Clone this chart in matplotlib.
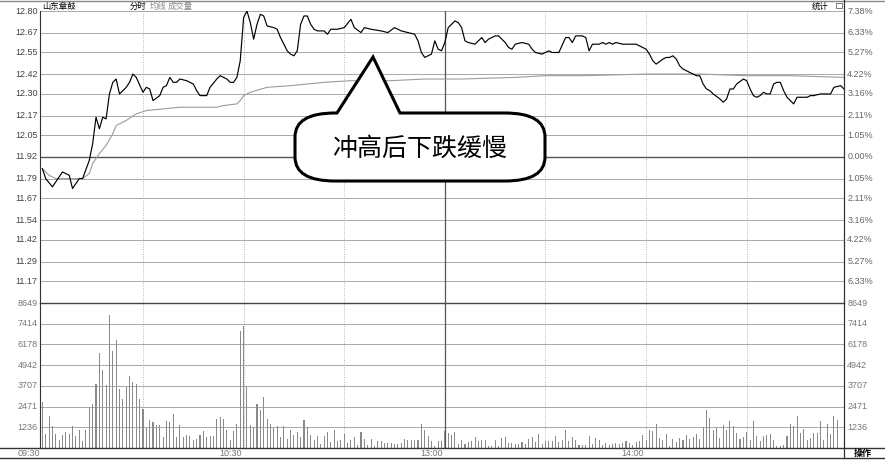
import matplotlib.pyplot as plt
from matplotlib.path import Path
from matplotlib.patches import PathPatch, Rectangle
from matplotlib.lines import Line2D
from matplotlib.transforms import Affine2D, blended_transform_factory

plt.rcParams["font.family"] = ["Liberation Sans", "Noto Sans CJK SC", "DejaVu Sans"]

W, H = 885, 463

# ---- data ----
stock_name = "山东章鼓"
note = "冲高后下跌缓慢"
pre_close = 11.92

price_minutes = [
    0, 1, 3, 4, 6, 8, 9, 11, 12, 14,
    15, 16, 17, 18, 19, 20, 21, 22, 23, 24,
    25, 26, 27, 28, 30, 31, 32, 33, 35, 36,
    37, 38, 39, 40, 41, 43, 45, 46, 47, 49,
    50, 52, 53, 55, 56, 57, 58, 59, 60, 61,
    62, 63, 64, 65, 66, 67, 69, 70, 71, 72,
    73, 74, 75, 76, 77, 78, 79, 80, 81, 82,
    84, 85, 86, 88, 90, 92, 93, 95, 96, 98,
    101, 103, 105, 107, 109, 111, 112, 113, 114, 116,
    117, 118, 119, 120, 121, 122, 123, 124, 125, 126,
    127, 129, 131, 132, 133, 135, 136, 138, 139, 140,
    141, 143, 145, 146, 147, 149, 151, 152, 154, 156,
    157, 158, 159, 161, 162, 163, 164, 166, 167, 168,
    169, 170, 171, 173, 177, 179, 180, 181, 182, 183,
    185, 186, 187, 188, 189, 190, 191, 192, 193, 194,
    195, 196, 197, 198, 199, 200, 202, 203, 204, 205,
    206, 207, 209, 210, 211, 212, 213, 214, 215, 216,
    217, 218, 219, 220, 221, 222, 223, 224, 225, 226,
    228, 229, 230, 232, 235, 236, 238, 239,
]
price_values = [
    11.85, 11.79, 11.74, 11.77, 11.83, 11.81, 11.73, 11.79, 11.79, 11.90,
    12.00, 12.16, 12.09, 12.16, 12.15, 12.30, 12.37, 12.39, 12.30, 12.32,
    12.34, 12.37, 12.42, 12.40, 12.31, 12.34, 12.33, 12.26, 12.29, 12.34,
    12.35, 12.40, 12.37, 12.37, 12.39, 12.38, 12.36, 12.32, 12.29, 12.29,
    12.34, 12.39, 12.41, 12.39, 12.37, 12.37, 12.40, 12.50, 12.76, 12.80,
    12.73, 12.63, 12.72, 12.78, 12.77, 12.71, 12.70, 12.69, 12.64, 12.60,
    12.56, 12.54, 12.53, 12.56, 12.72, 12.77, 12.77, 12.72, 12.69, 12.68,
    12.68, 12.66, 12.69, 12.69, 12.70, 12.75, 12.70, 12.67, 12.70, 12.69,
    12.68, 12.67, 12.70, 12.68, 12.67, 12.66, 12.62, 12.55, 12.52, 12.54,
    12.62, 12.57, 12.56, 12.61, 12.70, 12.72, 12.74, 12.73, 12.70, 12.62,
    12.61, 12.60, 12.64, 12.61, 12.63, 12.65, 12.65, 12.61, 12.58, 12.57,
    12.60, 12.61, 12.60, 12.57, 12.55, 12.54, 12.56, 12.55, 12.55, 12.64,
    12.64, 12.61, 12.65, 12.65, 12.64, 12.56, 12.60, 12.60, 12.61, 12.60,
    12.61, 12.60, 12.61, 12.60, 12.60, 12.58, 12.57, 12.54, 12.50, 12.48,
    12.51, 12.52, 12.52, 12.53, 12.51, 12.47, 12.45, 12.44, 12.43, 12.42,
    12.41, 12.41, 12.36, 12.33, 12.32, 12.30, 12.27, 12.25, 12.27, 12.33,
    12.33, 12.36, 12.39, 12.38, 12.33, 12.29, 12.28, 12.29, 12.31, 12.30,
    12.30, 12.36, 12.37, 12.37, 12.32, 12.28, 12.26, 12.24, 12.28, 12.28,
    12.28, 12.29, 12.29, 12.30, 12.30, 12.34, 12.35, 12.33,
]

avg_minutes = [0, 2, 4, 12, 14, 15, 17, 19, 21, 22,
               25, 28, 31, 36, 41, 46, 52, 54, 58, 59,
               60, 62, 67, 74, 84, 92, 104, 114, 125, 141,
               150, 161, 180, 196, 210, 223, 239]
avg_values = [11.85, 11.81, 11.79, 11.79, 11.82, 11.88, 11.94, 11.99, 12.06, 12.11,
              12.14, 12.18, 12.20, 12.21, 12.22, 12.22, 12.22, 12.23, 12.24, 12.26,
              12.29, 12.31, 12.34, 12.35, 12.37, 12.38, 12.38, 12.39, 12.39, 12.40,
              12.41, 12.41, 12.42, 12.42, 12.41, 12.41, 12.40]

# one bar per minute from 09:30
volumes = [
    2720, 835, 1885, 1290, 853, 495, 750, 955, 853, 1290,
    734, 1090, 435, 1090, 2420, 2640, 3835, 5665, 4670, 3775,
    7950, 5760, 6460, 3540, 2920, 3640, 4310, 3955, 3835, 2920,
    2325, 1190, 1690, 1550, 1390, 1350, 655, 1590, 1550, 2045,
    655, 1350, 655, 795, 690, 495, 535, 750, 990, 630,
    690, 690, 1750, 1825, 1730, 1050, 495, 990, 1450, 6955,
    7295, 3715, 1390, 1190, 2640, 2245, 3040, 1730, 1430, 1190,
    1330, 655, 1330, 535, 1050, 795, 930, 656, 1650, 1233,
    755, 457, 735, 258, 735, 954, 338, 1093, 398, 497,
    855, 298, 457, 636, 199, 954, 557, 199, 557, 139,
    398, 398, 298, 298, 298, 258, 258, 298, 537, 497,
    457, 457, 497, 1451, 1093, 696, 398, 139, 437, 400,
    994, 895, 795, 954, 258, 497, 258, 338, 398, 636,
    437, 497, 497, 99, 139, 457, 139, 596, 656, 298,
    298, 258, 258, 358, 258, 557, 656, 338, 855, 258,
    437, 437, 398, 696, 338, 497, 1093, 398, 656, 457,
    199, 199, 159, 735, 239, 596, 457, 159, 298, 199,
    258, 298, 258, 298, 437, 298, 199, 338, 398, 795,
    500, 1054, 994, 1451, 596, 497, 855, 139, 537, 338,
    596, 497, 795, 537, 656, 855, 537, 1252, 2246, 1789,
    1093, 1193, 596, 1392, 1054, 1590, 1332, 895, 537, 656,
    934, 497, 1590, 696, 398, 696, 795, 835, 497, 99,
    99, 199, 696, 1451, 1292, 1928, 895, 1133, 497, 596,
    895, 895, 1590, 497, 1451, 855, 1889, 1650,
]

price_labels = ["12.80", "12.67", "12.55", "12.42", "12.30", "12.17", "12.05",
                "11.92", "11.79", "11.67", "11.54", "11.42", "11.29", "11.17"]
pct_labels = ["7.38%", "6.33%", "5.27%", "4.22%", "3.16%", "2.11%", "1.05%",
              "0.00%", "1.05%", "2.11%", "3.16%", "4.22%", "5.27%", "6.33%"]
vol_labels = ["8649", "7414", "6178", "4942", "3707", "2471", "1236"]
time_labels = ["09:30", "10:30", "13:00", "14:00"]
time_minutes = [0, 60, 120, 180]
half_hours = [30, 60, 90, 150, 180, 210]
noon = 120

# ---- layout ----
fig = plt.figure(figsize=(W / 100, H / 100), dpi=100)
px = Affine2D().scale(1 / W, -1 / H).translate(0, 1) + fig.transFigure


def frame(x0, y0, x1, y1):
    return [x0 / W, 1 - y1 / H, (x1 - x0) / W, (y1 - y0) / H]


ax_p = fig.add_axes(frame(40, 11, 844, 303))
ax_v = fig.add_axes(frame(40, 303, 844, 448))
xlim = (-0.7, 239.0)

for ax in (ax_p, ax_v):
    ax.set_xlim(*xlim)
    ax.set_xticks([])
    ax.set_yticks([])
    for side in ("top", "right", "bottom"):
        ax.spines[side].set_visible(False)
    ax.spines["left"].set_color("#333333")
    ax.spines["left"].set_linewidth(0.8)
    for m in half_hours:
        ax.axvline(m, color="#b5b5b5", lw=0.7, ls=(0, (1, 1.5)), zorder=0.5)
    ax.axvline(noon, color="#555555", lw=0.9, zorder=0.6)

# price panel
ax_p.set_ylim(pre_close - 0.88, pre_close + 0.88)
lbl_left = blended_transform_factory(ax_p.transAxes, ax_p.transData)
for lab, pct in zip(price_labels, pct_labels):
    y = float(lab)
    ref = lab == "11.92"
    ax_p.axhline(y, color="#555555" if ref else "#a8a8a8", lw=1.0 if ref else 0.7, zorder=0.5)
    ax_p.text(-0.003, y, lab, transform=lbl_left, ha="right", va="center",
              fontsize=6.5, color="#444444")
    ax_p.text(1.004, y, pct, transform=lbl_left, ha="left", va="center",
              fontsize=6.5, color="#666666")

ax_p.plot(avg_minutes, avg_values, color="#9c9c9c", lw=0.8, zorder=2)
ax_p.plot(price_minutes, price_values, color="black", lw=0.85, zorder=3)

# volume panel
ax_v.set_ylim(0, float(vol_labels[0]))
lbl_v = blended_transform_factory(ax_v.transAxes, ax_v.transData)
for lab in vol_labels:
    y = float(lab)
    top = lab == vol_labels[0]
    ax_v.axhline(y, color="#444444" if top else "#a8a8a8", lw=1.0 if top else 0.7,
                 zorder=0.5, clip_on=False)
    ax_v.text(-0.003, y, lab, transform=lbl_v, ha="right", va="center",
              fontsize=6.5, color="#777777")
    ax_v.text(1.004, y, lab, transform=lbl_v, ha="left", va="center",
              fontsize=6.5, color="#777777")

ax_v.bar(range(len(volumes)), volumes, width=0.32, color="#8a8a8a", zorder=2)

lbl_t = blended_transform_factory(ax_v.transData, ax_v.transAxes)
for m, lab in zip(time_minutes, time_labels):
    ax_v.text(m - 0.6, -0.035, lab, transform=lbl_t, ha="right", va="center",
              fontsize=6.5, color="#777777")

# frame lines around the panels
for (x0, y0, x1, y1, c, lw) in [
    (0, 1, W, 1, "#888888", 1.0),
    (0, 448, W, 448, "#333333", 1.0),
    (0, 458, W, 458, "#333333", 1.0),
    (844, 0, 844, 458, "#333333", 0.9),
]:
    fig.add_artist(Line2D([x0, x1], [y0, y1], color=c, lw=lw, transform=px))

# header
cjk = ["Noto Sans CJK SC", "DejaVu Sans"]
fig.text(42, 6, stock_name, transform=px, fontsize=6, color="black", va="center", family=cjk)
fig.text(130, 6, "分时", transform=px, fontsize=6, color="black", va="center", family=cjk)
fig.text(150, 6, "均线", transform=px, fontsize=6, color="#8a8a8a", va="center", family=cjk)
fig.text(168, 6, "成交量", transform=px, fontsize=6, color="#8a8a8a", va="center", family=cjk)
fig.text(812, 6, "统计", transform=px, fontsize=6, color="black", va="center", family=cjk)
fig.add_artist(Rectangle((836, 2.5), 6, 5.5, fill=False, edgecolor="#666666", lw=0.6,
                         transform=px))
fig.text(863, 453, "操作", transform=px, fontsize=6.5, color="black", ha="center",
         va="center", weight="bold", family=cjk)

# speech bubble
x0, x1, y0, y1 = 295, 545, 113, 181
rx, ry = 40, 24
verts = [
    (x0 + rx, y0), (337, y0), (373, 57), (400, y0), (x1 - rx, y0),
    (x1, y0), (x1, y0 + ry),
    (x1, y1 - ry),
    (x1, y1), (x1 - rx, y1),
    (x0 + rx, y1),
    (x0, y1), (x0, y1 - ry),
    (x0, y0 + ry),
    (x0, y0), (x0 + rx, y0),
    (x0 + rx, y0),
]
codes = [Path.MOVETO, Path.LINETO, Path.LINETO, Path.LINETO, Path.LINETO,
         Path.CURVE3, Path.CURVE3,
         Path.LINETO,
         Path.CURVE3, Path.CURVE3,
         Path.LINETO,
         Path.CURVE3, Path.CURVE3,
         Path.LINETO,
         Path.CURVE3, Path.CURVE3,
         Path.CLOSEPOLY]
fig.add_artist(PathPatch(Path(verts, codes), facecolor="white", edgecolor="black",
                         lw=2.2, joinstyle="miter", transform=px, zorder=5))
fig.text((x0 + x1) / 2, 149, note, transform=px, fontsize=18, color="black",
         ha="center", va="center", zorder=6, family=cjk)

fig.savefig("out.png", dpi=100)
